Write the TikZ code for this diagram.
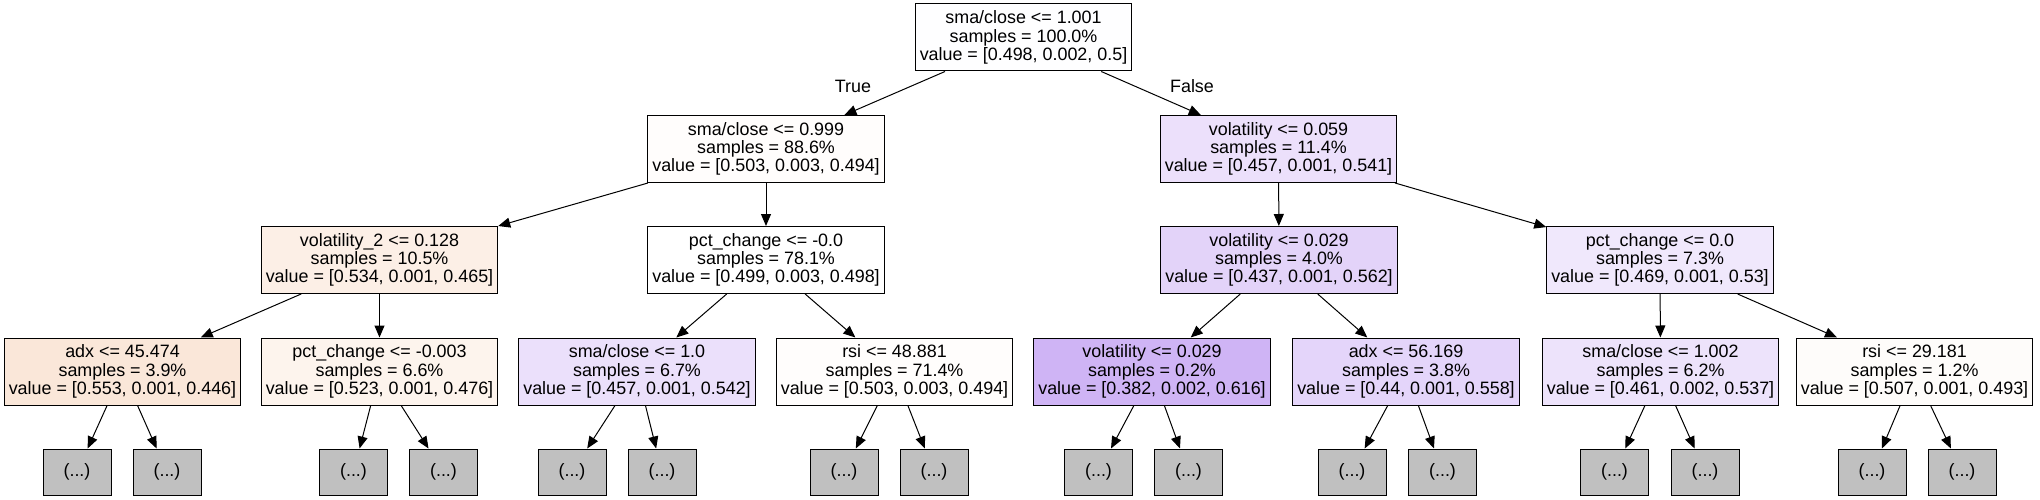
\documentclass[tikz,border=0pt]{standalone}
\usepackage{fontspec}
\setmainfont{Liberation Sans}
\usetikzlibrary{arrows.meta}

% fills of the split boxes
\definecolor{fWhite}{RGB}{255,255,255}
\definecolor{fRoot}{RGB}{254,254,255}
\definecolor{fOrA}{RGB}{255,253,252}
\definecolor{fOrB}{RGB}{252,239,230}
\definecolor{fOrC}{RGB}{250,231,217}
\definecolor{fOrD}{RGB}{253,244,237}
\definecolor{fOrE}{RGB}{254,252,250}
\definecolor{fPuA}{RGB}{236,224,251}
\definecolor{fPuB}{RGB}{227,211,249}
\definecolor{fPuC}{RGB}{240,232,252}
\definecolor{fPuD}{RGB}{235,224,251}
\definecolor{fPuE}{RGB}{207,180,245}
\definecolor{fPuF}{RGB}{228,213,250}
\definecolor{fPuG}{RGB}{237,227,251}
\definecolor{fStub}{RGB}{192,192,192}

\tikzset{
  split/.style={draw=black, line width=1pt, align=center, inner xsep=4.5pt,
    minimum height=67pt, font=\fontsize{17.9}{18.3}\selectfont},
  stub/.style={draw=black, line width=1pt, fill=fStub, minimum width=68pt,
    minimum height=46pt, font=\fontsize{17.9}{18.3}\selectfont},
  edge/.style={line width=1pt, -{Triangle[length=12pt,width=10pt]}},
  lbl/.style={font=\fontsize{17.9}{18.3}\selectfont}
}

\begin{document}
\begin{tikzpicture}[x=1pt,y=-1pt]
	\fill[white] (0,0) rectangle (2040,500);

	% level 0 and 1
	\node[split, fill=fRoot] (root) at (1023.5,37.5) {sma/close <= 1.001\\samples = 100.0\%\\value = [0.498, 0.002, 0.5]};
	\node[split, fill=fOrA] (scA) at (766,149) {sma/close <= 0.999\\samples = 88.6\%\\value = [0.503, 0.003, 0.494]};
	\node[split, fill=fPuA] (volA) at (1278.5,149) {volatility <= 0.059\\samples = 11.4\%\\value = [0.457, 0.001, 0.541]};

	% level 2
	\node[split, fill=fOrB] (volB) at (379.5,260) {volatility\_2 <= 0.128\\samples = 10.5\%\\value = [0.534, 0.001, 0.465]};
	\node[split, fill=fWhite] (pcA) at (766,260) {pct\_change <= -0.0\\samples = 78.1\%\\value = [0.499, 0.003, 0.498]};
	\node[split, fill=fPuB] (volC) at (1279,260) {volatility <= 0.029\\samples = 4.0\%\\value = [0.437, 0.001, 0.562]};
	\node[split, fill=fPuC] (pcB) at (1660,260) {pct\_change <= 0.0\\samples = 7.3\%\\value = [0.469, 0.001, 0.53]};

	% level 3
	\node[split, fill=fOrC] (adxA) at (122.5,371.5) {adx <= 45.474\\samples = 3.9\%\\value = [0.553, 0.001, 0.446]};
	\node[split, fill=fOrD] (pcC) at (379.5,371.5) {pct\_change <= -0.003\\samples = 6.6\%\\value = [0.523, 0.001, 0.476]};
	\node[split, fill=fPuD] (scB) at (637,371.5) {sma/close <= 1.0\\samples = 6.7\%\\value = [0.457, 0.001, 0.542]};
	\node[split, fill=fOrA] (rsiA) at (894.5,371.5) {rsi <= 48.881\\samples = 71.4\%\\value = [0.503, 0.003, 0.494]};
	\node[split, fill=fPuE] (volD) at (1152,371.5) {volatility <= 0.029\\samples = 0.2\%\\value = [0.382, 0.002, 0.616]};
	\node[split, fill=fPuF] (adxB) at (1406,371.5) {adx <= 56.169\\samples = 3.8\%\\value = [0.44, 0.001, 0.558]};
	\node[split, fill=fPuG] (scC) at (1660.5,371.5) {sma/close <= 1.002\\samples = 6.2\%\\value = [0.461, 0.002, 0.537]};
	\node[split, fill=fOrE] (rsiB) at (1914.5,371.5) {rsi <= 29.181\\samples = 1.2\%\\value = [0.507, 0.001, 0.493]};

	% truncated subtrees
	\foreach \n/\x in {s1/77, s2/167, s3/353.5, s4/443.5, s5/572, s6/662, s7/844, s8/934,
	                   s9/1098.5, s10/1188.5, s11/1352, s12/1442.5, s13/1614.5, s14/1705, s15/1872, s16/1962}
		\node[stub] (\n) at (\x,472) {(...)};

	% edges
	\foreach \a/\b in {root/scA, root/volA, scA/volB, scA/pcA, volA/volC, volA/pcB,
	                   volB/adxA, volB/pcC, pcA/scB, pcA/rsiA, volC/volD, volC/adxB, pcB/scC, pcB/rsiB,
	                   adxA/s1, adxA/s2, pcC/s3, pcC/s4, scB/s5, scB/s6, rsiA/s7, rsiA/s8,
	                   volD/s9, volD/s10, adxB/s11, adxB/s12, scC/s13, scC/s14, rsiB/s15, rsiB/s16}
		\draw[edge] (\a) -- (\b);

	\node[lbl] (lblTrue) at (853,86) {True};
	\node[lbl] (lblFalse) at (1192,86) {False};
\end{tikzpicture}
\end{document}
